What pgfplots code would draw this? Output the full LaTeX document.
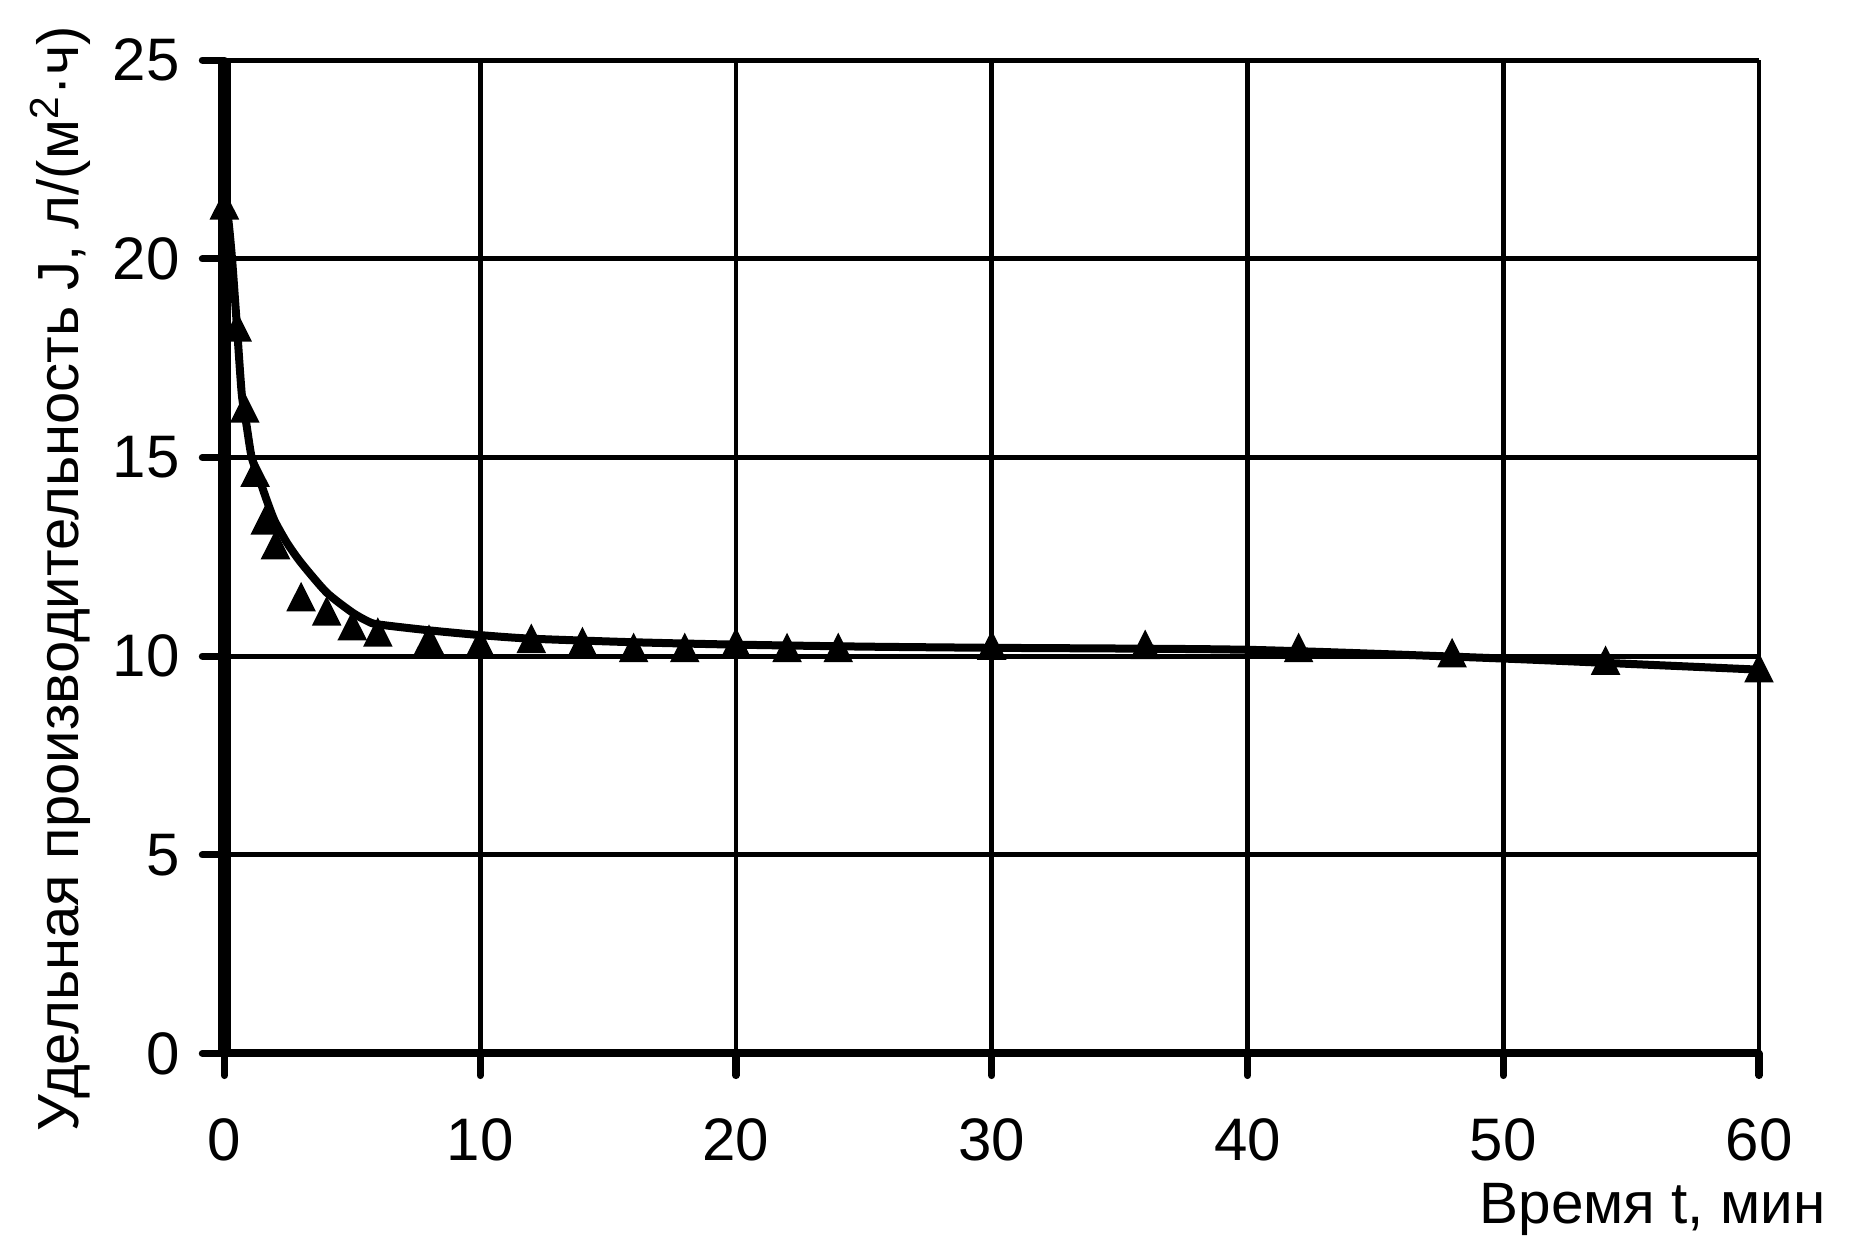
\documentclass[border=0pt]{standalone}
\usepackage{fontspec}
\setmainfont{Liberation Sans}
\usepackage{pgfplots}
\pgfplotsset{compat=1.18}

\begin{document}
\begin{tikzpicture}
\begin{axis}[
  scale only axis,
  width=383.7pt, height=248.35pt,
  xmin=0, xmax=60, ymin=0, ymax=25,
  xtick={0,10,...,60}, ytick={0,5,...,25},
  axis x line=bottom, axis y line=left,
  x axis line style={-, line width=2pt},
  y axis line style={-, line width=3.2pt},
  tick align=outside,
  major tick length=5.5pt,
  every tick/.style={black, line width=1.8pt, line cap=round},
  grid=major,
  major grid style={black, line width=1.2pt},
  /pgf/number format/assume math mode=true,
  xticklabel style={font=\fontsize{15}{17}\selectfont, yshift=-7.3pt},
  yticklabel style={font=\fontsize{15}{17}\selectfont, xshift=-2.2pt},
  xlabel={Время t, мин},
  xlabel style={font=\fontsize{14.6}{17}\selectfont, at={(rel axis cs:1,0)}, anchor=base east, xshift=20.1pt, yshift=-42.4pt},
  ylabel={Удельная производительность J, л/(м\textsuperscript{2}·ч)},
  ylabel style={font=\fontsize{14.5}{17}\selectfont, at={(rel axis cs:0,0.5)}, anchor=center, xshift=-5.5pt, yshift=41pt},
  clip=false,
]
\addplot[black, line width=2pt, smooth, tension=0.4] coordinates {
(0,21.4) (0.15,21.0) (0.3,20.0) (0.48,18.4) (0.68,16.6) (0.87,15.8) (1.07,15.0)
(1.4,14.4) (1.67,13.9) (1.97,13.4) (2.45,12.85) (3.0,12.35) (4.0,11.6) (5.0,11.1)
(5.6,10.88) (6,10.8) (8,10.65) (10,10.53) (12,10.44) (16,10.35) (20,10.29)
(25,10.24) (30,10.21) (40,10.16) (50,9.94) (60,9.66)
};
\addplot[only marks, mark=triangle*, mark size=3.9pt, mark options={black, fill=black, line width=0.4pt, yscale=1.15, yshift=-1pt}] coordinates {
(0,21.35) (0.5,18.28) (0.8,16.24) (1.2,14.62) (1.6,13.42) (2,12.8) (3,11.49)
(4,11.13) (5,10.76) (6,10.6) (8,10.42) (10,10.33) (12,10.44) (14,10.36)
(16,10.21) (18,10.21) (20,10.34) (22,10.21) (24,10.21) (30,10.27) (36,10.29)
(42,10.21) (48,10.08) (54,9.89) (60,9.70)
};
\end{axis}
\pgfresetboundingbox
\path (-56.1pt,-51.6pt) rectangle (406.45pt,263.4pt);
\end{tikzpicture}
\end{document}
